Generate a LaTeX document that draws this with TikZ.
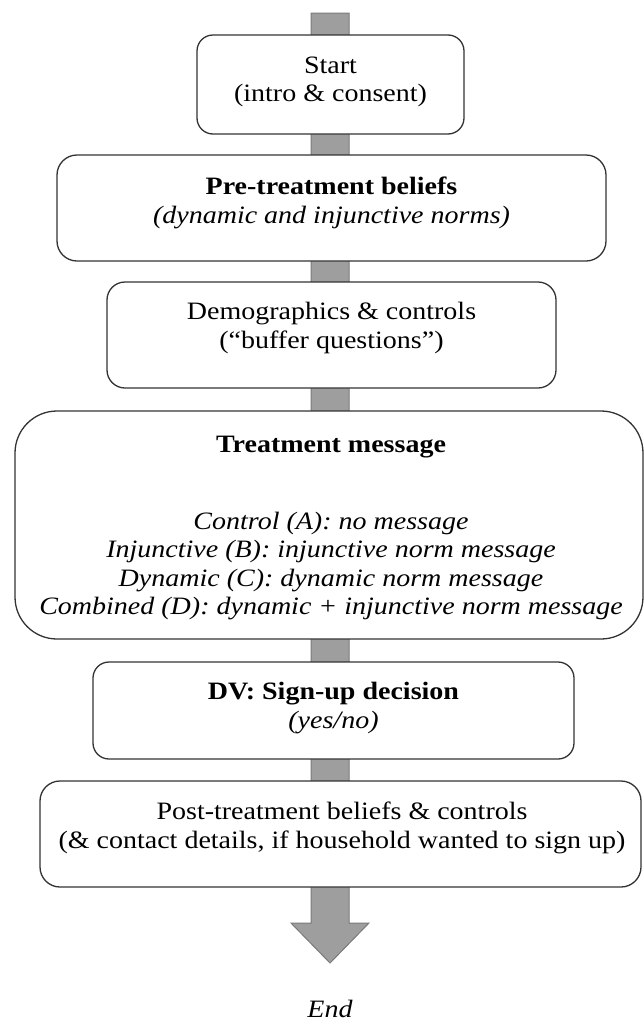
\documentclass[tikz,border=0pt]{standalone}
\usepackage{fontspec}
\setmainfont[FakeStretch=1.12]{Liberation Serif}
\begin{document}
\begin{tikzpicture}[x=1pt,y=-1pt,
  stagebox/.style={draw=black!80, line width=1.3pt, fill=white, rounded corners=#1, inner sep=0pt, outer sep=0pt},
  stagebox/.default=16pt,
  txt/.style={align=center, font=\fontsize{25}{28.5}\selectfont, inner sep=0pt},
  barstyle/.style={fill=black!38, draw=black!52, line width=1pt, line join=miter}
]
\useasboundingbox (0,0) rectangle (643,1023);
% flow bar
\coordinate (top) at (330,13);
\coordinate (tip) at (330,963);
\draw[barstyle] ([xshift=-19pt]top) -- ([xshift=19pt]top) -- ([xshift=19pt,yshift=40pt]tip) -- ([xshift=39pt,yshift=40pt]tip) -- (tip) -- ([xshift=-39pt,yshift=40pt]tip) -- ([xshift=-19pt,yshift=40pt]tip) -- cycle;
% boxes
\node[stagebox=16pt, minimum width=267pt, minimum height=99pt] (start) at (330.5,84.5) {};
\node[txt] (starttxt) at (330.5,82) {Start\\(intro \& consent)};
\node[stagebox=20pt, minimum width=549pt, minimum height=106pt] (pre) at (331.5,208) {};
\node[txt] (pretxt) at (331.5,203) {\textbf{Pre-treatment beliefs}\\\textit{(dynamic and injunctive norms)}};
\node[stagebox=18pt, minimum width=449pt, minimum height=106pt] (demo) at (331.5,335) {};
\node[txt] (demotxt) at (331.5,328) {Demographics \& controls\\(“buffer questions”)};
\node[stagebox=42pt, minimum width=628pt, minimum height=228pt] (treat) at (329,525) {};
\node[txt] (treathead) at (331,447) {\textbf{Treatment message}};
\node[txt] (treattxt) at (331,566) {\itshape Control (A): no message\\\itshape Injunctive (B): injunctive norm message\\\itshape Dynamic (C): dynamic norm message\\\itshape Combined (D): dynamic + injunctive norm message};
\node[stagebox=16pt, minimum width=481pt, minimum height=97pt] (dv) at (333.5,710.5) {};
\node[txt] (dvtxt) at (333.5,708) {\textbf{DV: Sign-up decision}\\\textit{(yes/no)}};
\node[stagebox=20pt, minimum width=601pt, minimum height=106pt] (post) at (340.5,834) {};
\node[txt] (posttxt) at (342,828) {Post-treatment beliefs \& controls\\(\& contact details, if household wanted to sign up)};
\node[txt] (end) at (330,1009) {\textit{End}};
\end{tikzpicture}
\end{document}
